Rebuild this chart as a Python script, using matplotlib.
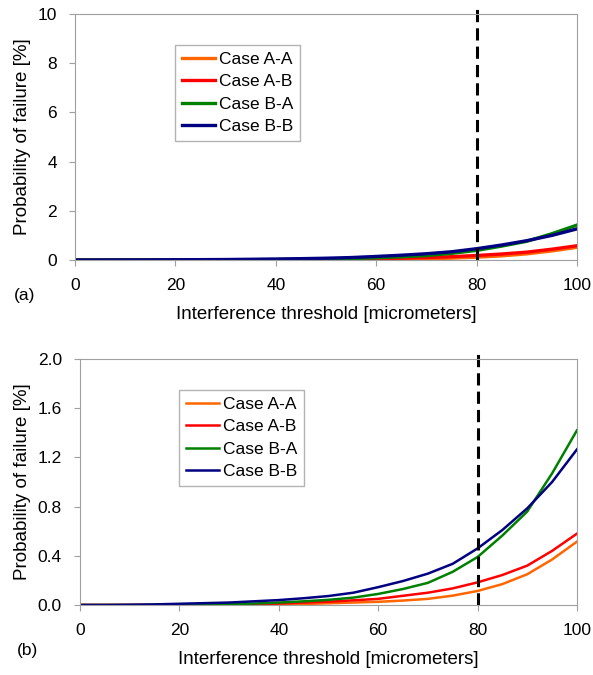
from matplotlib import pyplot as plt
import numpy as np

plt.rcParams.update({'font.family': 'Liberation Sans',
'font.size': 12.5,
'xtick.labelsize': 12.5,
'ytick.labelsize': 12.5,
'axes.labelsize': 13.5,
'legend.fontsize': 12.5})

# interference threshold [micrometers]
threshold = [0, 5, 10, 15, 20, 25, 30, 35, 40, 45, 50, 55, 60, 65, 70, 75, 80, 85, 90, 95, 100]

# probability of failure [%]
case_AA = [0, 0, 0, 0, 0, 0, 0, 0.002, 0.005, 0.008, 0.014, 0.02, 0.026, 0.036, 0.05, 0.076, 0.114, 0.17, 0.25, 0.37, 0.515]
case_AB = [0, 0, 0, 0, 0, 0.001, 0.003, 0.006, 0.012, 0.02, 0.027, 0.038, 0.05, 0.075, 0.10, 0.135, 0.184, 0.244, 0.32, 0.44, 0.58]
case_BA = [0, 0, 0, 0, 0.001, 0.003, 0.006, 0.012, 0.02, 0.03, 0.042, 0.06, 0.09, 0.13, 0.18, 0.27, 0.39, 0.565, 0.76, 1.07, 1.42]
case_BB = [0, 0, 0.002, 0.005, 0.01, 0.015, 0.02, 0.03, 0.04, 0.055, 0.073, 0.10, 0.145, 0.195, 0.255, 0.335, 0.46, 0.61, 0.786, 1.0, 1.265]

labels = ['Case A-A', 'Case A-B', 'Case B-A', 'Case B-B']
colors = ['#FF6600', '#FF0000', '#008000', '#000080']
series = [case_AA, case_AB, case_BA, case_BB]

# ----------------------------------------------------------------------------------------------------
def style_axes(ax, ymax, yticks, fmt, lw):

    for s, c, l in zip(series, colors, labels):
        ax.plot(threshold, s, color = c, lw = lw, label = l)
    ax.axvline(80, ymin = 0, ymax = 1.02, color = 'black', ls = (0, (4, 2)), lw = 2.2, clip_on = False)
    ax.set_xlim(0, 100)
    ax.set_ylim(0, ymax)
    ax.set_xticks(np.arange(0, 101, 20))
    ax.set_yticks(yticks)
    ax.set_yticklabels([fmt.format(v) for v in yticks])
    for sp in ax.spines.values():
        sp.set_color('#A0A0A0')
    ax.tick_params(direction = 'out', length = 4, color = '#A0A0A0', pad = 9)
    ax.set_xlabel('Interference threshold [micrometers]', labelpad = 9)
    ax.set_ylabel('Probability of failure [%]')
    ax.legend(loc = 'upper left', bbox_to_anchor = (0.2, 0.875), frameon = True, fancybox = False,
              edgecolor = '#A0A0A0', handlelength = 1.9, handletextpad = 0.2, labelspacing = 0.42,
              borderpad = 0.4, borderaxespad = 0)

# ----------------------------------------------------------------------------------------------------
fig = plt.figure(figsize = (5.93, 6.75), dpi = 100)

ax1 = fig.add_axes([0.1265, 0.6148, 0.8465, 0.3644])
style_axes(ax1, 10, [0, 2, 4, 6, 8, 10], '{:.0f}', 2.4)
ax1.yaxis.set_label_coords(-0.088, 0.5)

ax2 = fig.add_axes([0.1349, 0.1037, 0.838, 0.3644])
style_axes(ax2, 2.0, [0, 0.4, 0.8, 1.2, 1.6, 2.0], '{:.1f}', 1.8)
ax2.yaxis.set_label_coords(-0.099, 0.5)

fig.text(25 / 593, 1 - 295 / 675, '(a)', ha = 'center', va = 'center', fontsize = 12.5)
fig.text(27 / 593, 1 - 650 / 675, '(b)', ha = 'center', va = 'center', fontsize = 12.5)

fig.savefig('out.png', dpi = 100)
